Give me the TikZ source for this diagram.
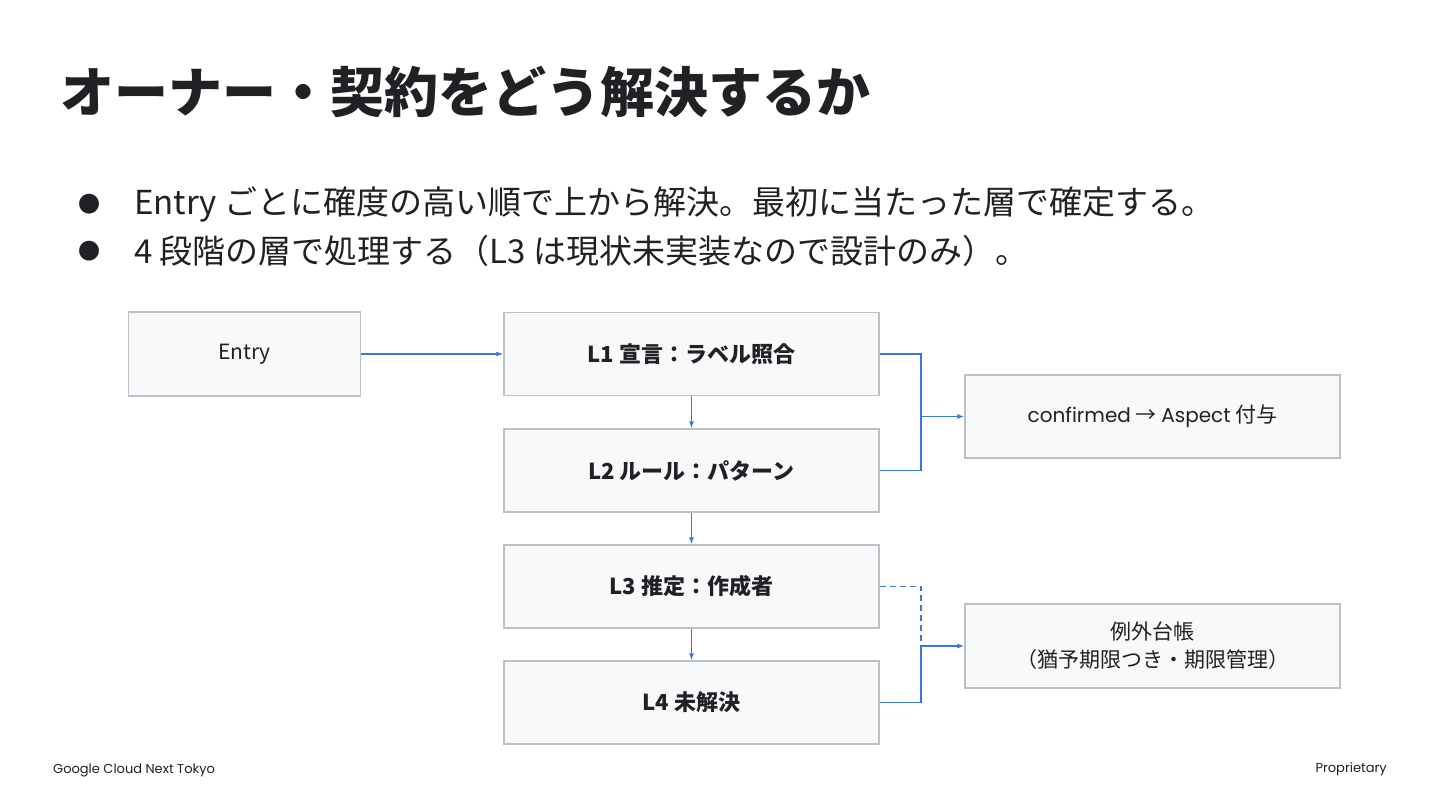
\documentclass[tikz,border=0pt]{standalone}
\usepackage{fontspec}
\setmainfont{Noto Sans CJK JP}
\newfontfamily\latinf{Poppins}
\usetikzlibrary{arrows.meta}
\definecolor{boxfill}{HTML}{F8F9FA}
\definecolor{boxline}{HTML}{BDC1C6}
\definecolor{conn}{HTML}{3C78D8}
\definecolor{txt}{HTML}{202124}
\tikzset{
  box/.style={draw=boxline, line width=1.2pt, fill=boxfill, inner sep=0pt, text=txt, align=center,
    font=\fontsize{21}{28}\selectfont},
  layer/.style={box, minimum width=375pt, minimum height=83pt, font=\fontsize{22}{27}\selectfont\bfseries},
  link/.style={draw=conn, line width=1.5pt, -{Latex[length=7pt,width=5pt]}},
  plain/.style={draw=conn, line width=1.5pt},
}
\begin{document}
\begin{tikzpicture}[x=1pt,y=-1pt]
\useasboundingbox (0,0) rectangle (1440,810);
\fill[white] (0,0) rectangle (1440,810);
% title
\node[anchor=west, text=txt, inner sep=0pt, font=\fontsize{54}{60}\selectfont\bfseries] (title) at (60,92) {オーナー・契約をどう解決するか};
% bullets
\node[anchor=center, text=txt, inner sep=0pt, font=\fontsize{22}{26}\selectfont] (b1dot) at (89,204) {●};
\node[anchor=west, text=txt, inner sep=0pt, font=\fontsize{33}{36}\selectfont] (b1) at (134,204) {Entry ごとに確度の高い順で上から解決。最初に当たった層で確定する。};
\node[anchor=center, text=txt, inner sep=0pt, font=\fontsize{22}{26}\selectfont] (b2dot) at (89,251) {●};
\node[anchor=west, text=txt, inner sep=0pt, font=\fontsize{33}{36}\selectfont] (b2) at (134,251) {4 段階の層で処理する（L3 は現状未実装なので設計のみ）。};
% boxes
\node[box, minimum width=232pt, minimum height=84pt] (entry) at (244.5,354) {Entry};
\node[layer] (l1) at (691.5,354) {L1 宣言：ラベル照合};
\node[layer] (l2) at (691.5,470.5) {L2 ルール：パターン};
\node[layer] (l3) at (691.5,586.5) {L3 推定：作成者};
\node[layer] (l4) at (691.5,702.5) {L4 未解決};
\node[box, minimum width=375pt, minimum height=83pt] (conf) at (1152.5,416.5) {{\latinf\fontsize{20}{26}\selectfont confirmed} → {\latinf\fontsize{20}{26}\selectfont Aspect} 付与};
\node[box, minimum width=375pt, minimum height=84pt] (exc) at (1152.5,646) {例外台帳\\（猶予期限つき・期限管理）};
% connectors
\draw[link] (entry.east) -- (l1.west);
\draw[link] (l1.south) -- (l2.north);
\draw[link] (l2.south) -- (l3.north);
\draw[link] (l3.south) -- (l4.north);
\coordinate (j1) at (921,416.5);
\coordinate (j2) at (921,646);
\draw[plain] (l1.east) -| (j1);
\draw[plain] (l2.east) -| (j1);
\draw[link] (j1) -- (conf.west);
\draw[plain, dashed, dash pattern=on 6pt off 4pt] (l3.east) -| (j2);
\draw[plain] (l4.east) -| (j2);
\draw[link] (j2) -- (exc.west);
% footer
\node[anchor=west, text=txt, inner sep=0pt, font=\latinf\fontsize{13}{15}\selectfont] (foot) at (53,770) {Google Cloud Next Tokyo};
\node[anchor=east, text=txt, inner sep=0pt, font=\latinf\fontsize{13}{15}\selectfont] (prop) at (1387,769) {Proprietary};
\end{tikzpicture}
\end{document}
